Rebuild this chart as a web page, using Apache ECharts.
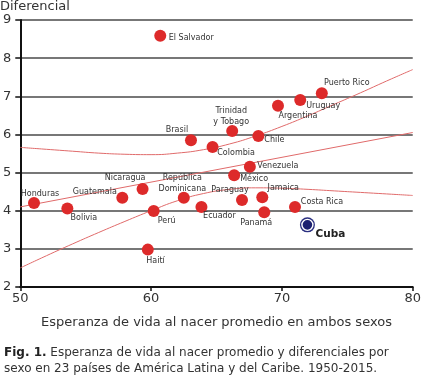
<!DOCTYPE html>
<html>
<head>
<meta charset="utf-8">
<script src="https://cdn.jsdelivr.net/npm/echarts@6/dist/echarts.min.js"></script>
<style>html,body{margin:0;padding:0;background:#fff}#c{width:424px;height:384px}</style>
</head>
<body>
<div id="c"></div>
<script>
// Data
const countries = ["El Salvador","Brasil","Colombia","Trinidad\ny Tobago","Chile","Argentina","Uruguay","Puerto Rico","Venezuela","México","Paraguay","Jamaica","Panamá","Costa Rica","Ecuador","Honduras","Bolivia","Guatemala","Nicaragua","Perú","Haití","República\nDominicana"];
const lifeExp = [60.7,63.05,64.7,66.2,68.2,69.7,71.4,73.05,67.55,66.35,66.95,68.5,68.65,71.0,63.85,51.05,53.6,57.8,59.35,60.2,59.75,62.5];
const diff    = [8.59,5.85,5.67,6.09,5.96,6.75,6.90,7.08,5.15,4.93,4.28,4.35,3.96,4.10,4.10,4.20,4.06,4.34,4.57,3.99,2.98,4.34];
const cubaName = "Cuba";
const cubaLifeExp = 71.95;
const cubaDiff = 3.63;
const trendX = [50,80];
const trendY = [4.10,6.05];
const bandX = [50,52,54,56,58,60,62,64,66,68,70,72,74,76,78,80];
const bandUpper = [5.66,5.61,5.56,5.51,5.48,5.47,5.51,5.60,5.75,5.96,6.21,6.49,6.79,7.09,7.40,7.70];
const bandLower = [2.50,2.82,3.13,3.43,3.72,4.00,4.26,4.45,4.56,4.60,4.59,4.56,4.52,4.48,4.44,4.40];
const xTicks = [50,60,70,80];
const yTicks = [2,3,4,5,6,7,8,9];

// Label placement (offset of label centre from point centre, px)
const labelOffsets = {
  "El Salvador":[31,2],"Brasil":[-14,-10],"Colombia":[23.5,5.6],"Trinidad\ny Tobago":[-1,-15],
  "Chile":[16,4],"Argentina":[20,10],"Uruguay":[23,6],"Puerto Rico":[25,-10],"Venezuela":[28,-0.5],
  "México":[20,4],"Paraguay":[-12,-10],"Jamaica":[21,-9],"Panamá":[-8,11],"Costa Rica":[27,-5],
  "Ecuador":[18,9.5],"Honduras":[6,-9.5],"Bolivia":[16.5,9],"Guatemala":[-27.5,-5.4],
  "Nicaragua":[-17.5,-10.7],"Perú":[13,9.7],"Haití":[7.7,11.4],"República\nDominicana":[-1.5,-14.7]
};

const font = "DejaVu Sans, Verdana, sans-serif";
const pts = countries.map((n,i)=>({
  name:n, value:[lifeExp[i],diff[i]],
  label:{show:true, position:'inside', offset:labelOffsets[n], formatter:n, align:'center', verticalAlign:'middle'}
}));

const chart = echarts.init(document.getElementById('c'), null, {renderer:'canvas'});
chart.setOption({
  animation:false,
  grid:{left:19.5, right:6.5, top:20, bottom:97},
  xAxis:{
    type:'value', min:xTicks[0], max:xTicks[xTicks.length-1], interval:10,
    axisLine:{show:true, onZero:false, lineStyle:{color:'#111', width:2}},
    axisTick:{show:true, length:4, lineStyle:{color:'#111', width:1.5}},
    axisLabel:{color:'#333', fontSize:13, fontFamily:font, margin:5},
    splitLine:{show:false},
    name:'Esperanza de vida al nacer promedio en ambos sexos', nameLocation:'middle', nameGap:29,
    nameTextStyle:{color:'#333', fontSize:13, fontFamily:font}
  },
  yAxis:{
    type:'value', min:yTicks[0], max:yTicks[yTicks.length-1], interval:1,
    axisLine:{show:true, onZero:false, lineStyle:{color:'#111', width:2}},
    axisTick:{show:true, length:5, lineStyle:{color:'#111', width:1.5}},
    axisLabel:{color:'#333', fontSize:13, fontFamily:font, margin:9},
    splitLine:{show:true, lineStyle:{color:'#4a4a4a', width:1.6}}
  },
  graphic:[
    {type:'text', left:0, top:0, style:{text:'Diferencial', fill:'#333', font:'13px '+font}},
    {type:'text', left:4, top:347, style:{
      rich:{b:{fontWeight:'bold', fontSize:12, fontFamily:font, fill:'#222', lineHeight:16},
            n:{fontSize:12, fontFamily:font, fill:'#333', lineHeight:16}},
      text:'{b|Fig. 1.}{n| Esperanza de vida al nacer promedio y diferenciales por}\n{n|sexo en 23 países de América Latina y del Caribe. 1950-2015.}'
    }}
  ],
  series:[
    {type:'line', data:bandX.map((x,i)=>[x,bandUpper[i]]), smooth:0.5, symbol:'none', lineStyle:{color:'#e06a6a', width:1}, z:2},
    {type:'line', data:bandX.map((x,i)=>[x,bandLower[i]]), smooth:0.5, symbol:'none', lineStyle:{color:'#e06a6a', width:1}, z:2},
    {type:'line', data:trendX.map((x,i)=>[x,trendY[i]]), symbol:'none', lineStyle:{color:'#e06a6a', width:1}, z:2},
    {type:'scatter', data:pts, symbolSize:12, itemStyle:{color:'#dd2a2a', opacity:1},
     label:{color:'#333', fontSize:8, fontFamily:font, lineHeight:11}, z:3},
    {type:'scatter', data:[[cubaLifeExp,cubaDiff]], symbolSize:15, itemStyle:{color:'#2a2f80', opacity:1}, z:4, silent:true},
    {type:'scatter', data:[{name:cubaName, value:[cubaLifeExp,cubaDiff]}], symbolSize:11,
     itemStyle:{color:'#1c2070', borderColor:'#fff', borderWidth:1.4, opacity:1}, z:5,
     label:{show:true, position:'inside', offset:[23,9.5], formatter:cubaName, color:'#222', fontSize:10.5, fontWeight:'bold', fontFamily:font}}
  ]
});
</script>
</body>
</html>
